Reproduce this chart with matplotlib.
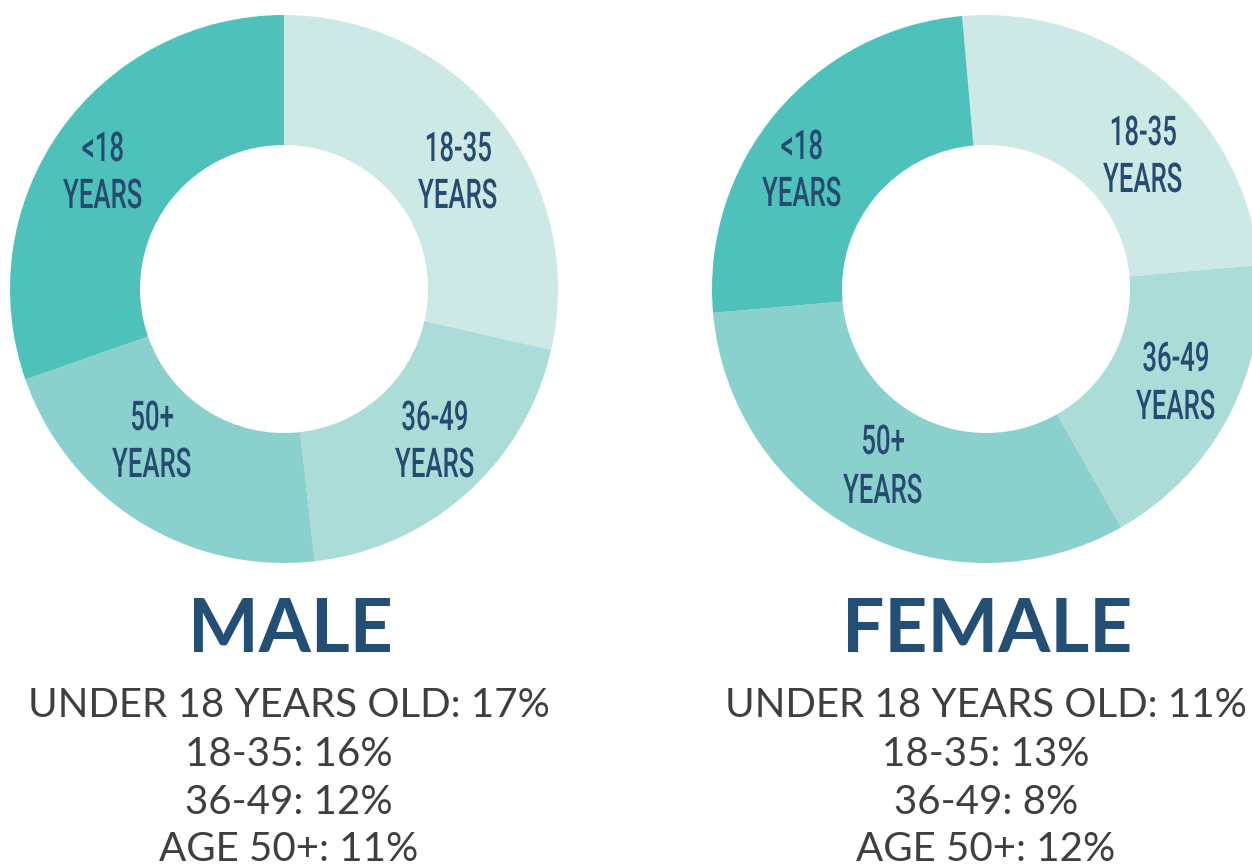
import matplotlib
matplotlib.use("Agg")
import matplotlib.pyplot as plt
from matplotlib.patheffects import AbstractPathEffect
from matplotlib.transforms import Affine2D

# ---------------- data ----------------
segments = ["18-35", "36-49", "50+", "<18"]          # clockwise from top
male_share = [16, 11, 12, 17]                         # as drawn in the donut
female_share = [11, 8, 14, 11]                        # as drawn in the donut
segment_colors = ["#cde9e6", "#abdcd8", "#8ad1cd", "#4fc1bb"]

titles = ["MALE", "FEMALE"]
line_labels = ["UNDER 18 YEARS OLD", "18-35", "36-49", "AGE 50+"]
male_pct = [17, 16, 12, 11]
female_pct = [11, 13, 8, 12]

# ---------------- layout ----------------
W, H = 1252, 867
DPI = 100
centers = [(284, 289), (986, 289)]          # pixel coords (y down)
R_OUT, R_IN = 274, 144
start_angles = [90, 95]
# label line positions (x, baseline of first line, baseline of second line)
label_pos = [
    {"18-35": (458, 161, 208), "36-49": (435, 430, 477),
     "50+": (152, 430, 477), "<18": (103, 161, 208)},
    {"18-35": (1143, 145, 192), "36-49": (1176, 371, 419),
     "50+": (883, 454, 503), "<18": (802, 159, 206)},
]
title_x = [290, 987]
title_base = 652
line_base = [717, 766, 814, 861]
text_x = [289, 986]

TITLE_COLOR = "#244f75"
BODY_COLOR = "#3f3f3f"
LABEL_COLOR = "#264a70"


class Condense(AbstractPathEffect):
    """Draw text narrower horizontally (condensed look)."""
    def __init__(self, k):
        super().__init__()
        self.k = k

    def draw_path(self, renderer, gc, tpath, affine, rgbFace=None):
        ext = tpath.get_extents()
        cx = (ext.x0 + ext.x1) / 2
        t = Affine2D().translate(-cx, 0).scale(self.k, 1).translate(cx, 0) + affine
        renderer.draw_path(gc, tpath, t, rgbFace)


fig = plt.figure(figsize=(W / DPI, H / DPI), dpi=DPI)
fig.patch.set_facecolor("white")
ax = fig.add_axes([0, 0, 1, 1])

def fy(y):
    return H - y

for i, shares in enumerate([male_share, female_share]):
    cx, cy = centers[i]
    ax.pie(shares, colors=segment_colors, startangle=start_angles[i],
           counterclock=False, center=(cx, fy(cy)), radius=R_OUT,
           wedgeprops=dict(width=R_OUT - R_IN, linewidth=0, antialiased=True),
           frame=False)
    for seg in segments:
        x, b1, b2 = label_pos[i][seg]
        for txt, b in [(seg, b1), ("YEARS", b2)]:
            ax.text(x, fy(b), txt, ha="center", va="baseline",
                    fontsize=29.5, fontweight="medium",
                    family=["Roboto", "DejaVu Sans"],
                    color=LABEL_COLOR, path_effects=[Condense(0.63)])

    ax.text(title_x[i], fy(title_base), titles[i], ha="center", va="baseline",
            fontsize=54, fontweight="bold", family=["Lato", "DejaVu Sans"],
            color=TITLE_COLOR)
    pcts = male_pct if i == 0 else female_pct
    for lab, p, b in zip(line_labels, pcts, line_base):
        ax.text(text_x[i], fy(b), f"{lab}: {p}%", ha="center", va="baseline",
                fontsize=29, family=["Lato", "DejaVu Sans"], color=BODY_COLOR)

ax.set_xlim(0, W)
ax.set_ylim(0, H)
ax.set_aspect("auto")
ax.axis("off")

fig.savefig("out.png", dpi=DPI, facecolor="white")
